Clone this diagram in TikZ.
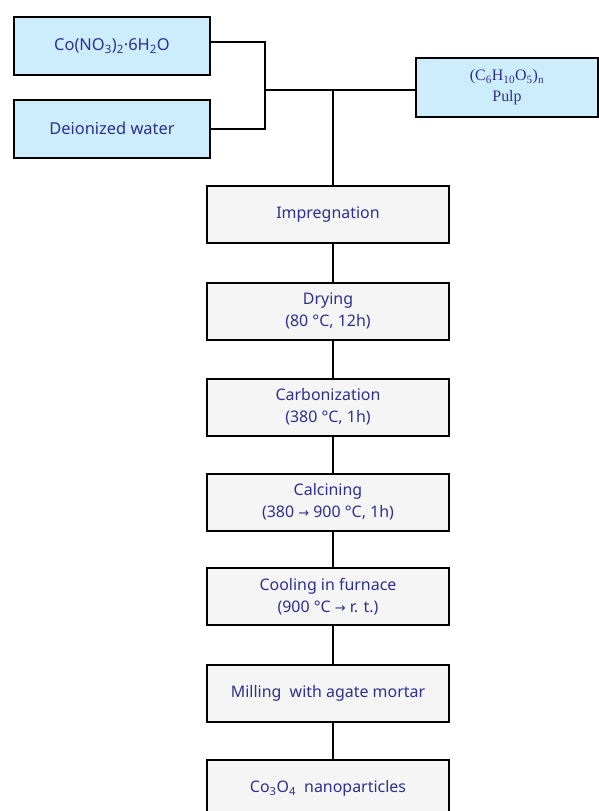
\documentclass[tikz,border=0pt]{standalone}
\usepackage{fontspec}
\setmainfont{Noto Sans}
\newfontfamily\serifpulp{Liberation Serif}
\newfontfamily\arrowfont{DejaVu Sans}
\definecolor{txtblue}{HTML}{2E2F8F}
\definecolor{boxblue}{HTML}{CDEDFD}
\definecolor{boxgrey}{HTML}{F5F5F5}
\newcommand{\ar}{{\arrowfont\fontsize{13}{14}\selectfont →}}
\begin{document}
\begin{tikzpicture}[x=1bp,y=-1bp,
  every node/.style={inner sep=0pt, outer sep=0pt},
  inbox/.style={draw=black, line width=2bp, fill=boxblue, text=txtblue, align=center,
     minimum width=196bp, minimum height=58bp, font=\fontsize{16.5}{22}\selectfont},
  pbox/.style={draw=black, line width=2bp, fill=boxgrey, text=txtblue, align=center,
     minimum width=242bp, minimum height=57bp, font=\fontsize{16}{22}\selectfont},
  conn/.style={draw=black, line width=2bp}]
\useasboundingbox (0,0) rectangle (599,811);
\clip (0,0) rectangle (599,811);
\node[inbox] (co) at (112,46) {Co(NO\textsubscript{3})\textsubscript{2}·6H\textsubscript{2}O};
\node[inbox] (dw) at (112,128.5) {Deionized water};
\node[inbox, minimum width=182bp, font=\serifpulp\fontsize{16}{21}\selectfont] (pulp) at (507,87.5)
  {(C\textsubscript{6}H\textsubscript{10}O\textsubscript{5})\textsubscript{n}\\Pulp};
\node[pbox] (imp) at (328,214.5) {Impregnation};
\node[pbox] (dry) at (328,311) {Drying\\(80 °C, 12h)};
\node[pbox] (carb) at (328,407) {Carbonization\\(380 °C, 1h)};
\node[pbox] (calc) at (328,502) {Calcining\\(380 \ar{} 900 °C, 1h)};
\node[pbox] (cool) at (328,596.5) {Cooling in furnace\\(900 °C \ar{} r. t.)};
\node[pbox] (mill) at (328,693.5) {Milling\ \ with agate mortar};
\node[pbox] (prod) at (328,788.5) {Co\textsubscript{3}O\textsubscript{4}\ \ nanoparticles};
\coordinate (jt) at (265,42);
\coordinate (jb) at (265,128.5);
\coordinate (jm) at (265,90);
\coordinate (sp) at (333,90);
\path[conn] (co.east |- jt) -- (jt) -- (jb) -- (dw.east);
\path[conn] (jm) -- (jm -| pulp.west);
\path[conn] (sp) -- (sp |- imp.north);
\path[conn] (sp |- imp.south) -- (sp |- dry.north);
\path[conn] (sp |- dry.south) -- (sp |- carb.north);
\path[conn] (sp |- carb.south) -- (sp |- calc.north);
\path[conn] (sp |- calc.south) -- (sp |- cool.north);
\path[conn] (sp |- cool.south) -- (sp |- mill.north);
\path[conn] (sp |- mill.south) -- (sp |- prod.north);
\end{tikzpicture}
\end{document}
